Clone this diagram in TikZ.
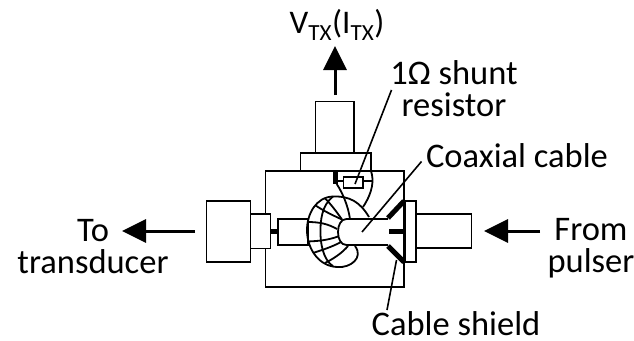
\documentclass[tikz,border=0pt]{standalone}
\usepackage{fontspec}
\setmainfont{Carlito}
\usetikzlibrary{arrows.meta}
\tikzset{
    part/.style={draw, line width=1.8pt},
    label/.style={inner sep=0pt, align=center, font=\fontsize{34.5}{32}\selectfont},
    leader/.style={line width=1.6pt},
    flow/.style={line width=3pt, -{Triangle[length=24pt,width=23pt]}},
    shield/.style={line width=5pt}
}
\begin{document}
\begin{tikzpicture}[x=1pt,y=-1pt]
    \useasboundingbox (0,0) rectangle (634,340);

    % housing and attached blocks
    \draw[part] (265.5,171) rectangle (404,287);
    \draw[part,fill=white] (315.5,101.5) rectangle (354,152.5);
    \draw[part,fill=white] (300.5,153) rectangle (371,171);
    \draw[part,fill=white] (206.5,201) rectangle (250.5,262);
    \draw[part,fill=white] (250.5,214) rectangle (270.5,248.5);
    \draw[part,fill=white] (278,219) rectangle (308,245);
    \draw[part,fill=white] (405,201) rectangle (416,262);
    \draw[part,fill=white] (416,214) rectangle (471.5,248);

    % inner conductors
    \draw[shield] (270.5,231) -- (278,231);
    \draw[shield] (389,231) -- (404,231);
    \draw[shield] (335,171) -- (335,184);

    % resistor and its wires
    \draw[part] (343.5,177) rectangle (363,188);
    \draw[part] (337,181) -- (343.5,181);
    \draw[part] (363,181) -- (372.5,181);
    \draw[part] (336.7,184) .. controls (342,192) and (348,205) .. (350,219);
    \draw[part] (371,171) .. controls (374,180) and (373,192) .. (363,207);

    % toroid
    \draw[part] (369,217) .. controls (360,202) and (350,196) .. (333,196.5)
        .. controls (316,197) and (307,214) .. (307,230)
        .. controls (307,250) and (320,267) .. (338,267)
        .. controls (350,268) and (364,258) .. (355,246);
    \draw[part] (333,196.5) .. controls (322,205) and (320,220) .. (320.5,235)
        .. controls (321,250) and (326,262) .. (333,266);
    \draw[part] (315,205) .. controls (322,210) and (332,215) .. (342,219.5);
    \draw[part] (325,198.5) .. controls (330,203) and (336,211) .. (342,219.5);
    \draw[part] (307.5,222) .. controls (320,222) and (328,224) .. (337,229);
    \draw[part] (307.5,241.5) .. controls (320,241) and (328,240) .. (338,236.5);
    \draw[part] (313,253) .. controls (322,250) and (332,247) .. (342,241.5);
    \draw[part] (325,263) .. controls (335,258) and (343,252) .. (348,246);

    % coax
    \fill[white] (388,219) -- (346.5,219) .. controls (341,219) and (338,225) .. (338,232)
        .. controls (338,239) and (341,245) .. (346.5,245) -- (388,245) -- cycle;
    \draw[part] (388,219) -- (346.5,219) .. controls (341,219) and (338,225) .. (338,232)
        .. controls (338,239) and (341,245) .. (346.5,245) -- (388,245);
    \draw[shield] (388,218) -- (404,201);
    \draw[shield] (388,246) -- (404,262);

    % labels
    \node[label,font=\fontsize{33}{32}\selectfont] (vtx) at (337,25) {V\textsubscript{TX}(I\textsubscript{TX})};
    \node[label] (shunt) at (454,89) {1Ω shunt\\resistor};
    \node[label] (coax) at (517,156) {Coaxial cable};
    \node[label] (to) at (93,247) {To\\transducer};
    \node[label] (from) at (591,248) {From\\pulser};
    \node[label] (shield) at (456,324) {Cable shield};

    % leaders
    \coordinate (shuntEnd) at (355,184);
    \coordinate (coaxEnd) at (362,232);
    \coordinate (shieldEnd) at (396.5,260);
    \draw[leader] (391.5,90) -- (shuntEnd);
    \draw[leader] (421.5,161.5) -- (coaxEnd);
    \draw[leader] (387,310) -- (shieldEnd);

    % signal arrows
    \coordinate (upTail) at (335,95);
    \coordinate (upTip) at (335,46);
    \coordinate (leftTail) at (195,231);
    \coordinate (leftTip) at (122,231);
    \coordinate (rightTail) at (540,231);
    \coordinate (rightTip) at (484,231);
    \draw[flow] (upTail) -- (upTip);
    \draw[flow] (leftTail) -- (leftTip);
    \draw[flow] (rightTail) -- (rightTip);
\end{tikzpicture}
\end{document}
